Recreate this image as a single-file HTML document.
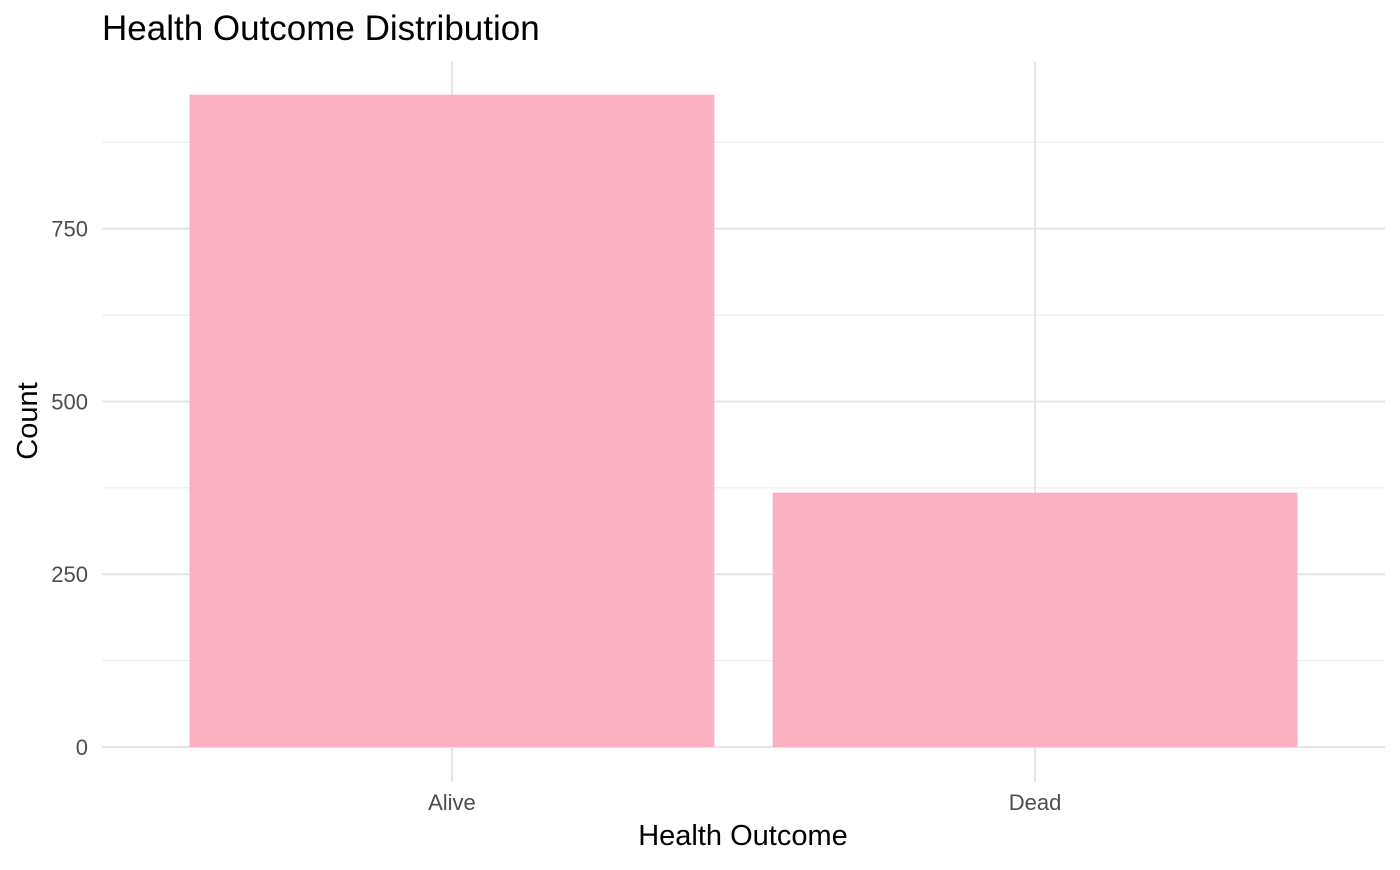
<!DOCTYPE html>
<html><head><meta charset="utf-8"><style>
body{margin:0;background:#fff;font-family:"Liberation Sans",Arial,sans-serif;}
</style></head><body>
<svg id="chart" width="1400" height="865" xmlns="http://www.w3.org/2000/svg">
<text x="102" y="40" font-size="35" fill="#000">Health Outcome Distribution</text>
<g id="grid"></g><g id="bars"></g><g id="labels"></g>
<text x="743" y="845" font-size="29" text-anchor="middle" fill="#000">Health Outcome</text>
<text transform="translate(37,421) rotate(-90)" font-size="29" text-anchor="middle" fill="#000">Count</text>
</svg>
<script>
const categories = ["Alive", "Dead"];
const counts = [944, 368];
const yTicks = [0, 250, 500, 750];
const ns = "http://www.w3.org/2000/svg";
const panelL = 102, panelR = 1385, panelT = 62, panelB = 747;
const yMax = Math.max(...counts) * 1.05;
const y = v => panelB - v / yMax * (panelB - panelT);
const band = (panelR - panelL) / (categories.length - 1 + 1.2);
const x = i => panelL + band * (0.6 + i);
function mk(tag, attrs, parent){const e=document.createElementNS(ns,tag);for(const k in attrs)e.setAttribute(k,attrs[k]);document.getElementById(parent).appendChild(e);return e;}
const step = yTicks[1]-yTicks[0];
for (let v = step/2; v < yMax; v += step) {
  const l = mk("line",{x1:panelL,x2:panelR,y1:y(v),y2:y(v),stroke:"#ebebeb","stroke-width":1},"grid");
  
  
}
yTicks.forEach(v=>{
  const l = mk("line",{x1:panelL,x2:panelR,y1:y(v),y2:y(v),stroke:"#e5e5e5","stroke-width":2},"grid");
  
  
  const t = mk("text",{x:88,y:y(v)+8,"font-size":22,"text-anchor":"end",fill:"#4d4d4d"},"labels");
  t.textContent=v;
  
  
});
categories.forEach((c,i)=>{
  const l = mk("line",{x1:x(i),x2:x(i),y1:panelT,y2:782,stroke:"#e5e5e5","stroke-width":2},"grid");
  
  
  const w = band*0.9;
  const r = mk("rect",{x:x(i)-w/2,y:y(counts[i]),width:w,height:y(0)-y(counts[i]),fill:"#fcb1c3"},"bars");
  
  
  const t = mk("text",{x:x(i),y:810,"font-size":22,"text-anchor":"middle",fill:"#4d4d4d"},"labels");
  t.textContent=c;
  
  
});
</script>
</body></html>
